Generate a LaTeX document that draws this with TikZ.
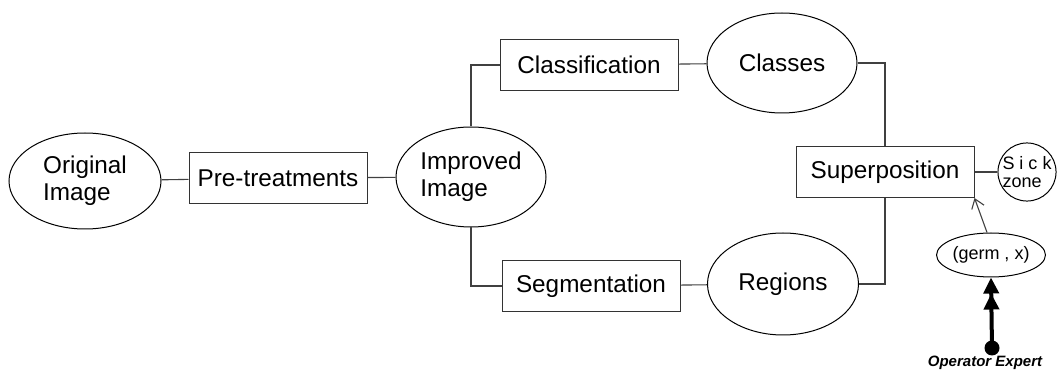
\documentclass[tikz,border=0pt]{standalone}
\usepackage{fontspec}
\setmainfont{Liberation Sans}
\usetikzlibrary{arrows.meta,shapes.geometric}
\begin{document}
\begin{tikzpicture}[x=1pt,y=-1pt,
  box/.style={draw=black!80,line width=1pt,minimum width=178pt,minimum height=51pt,inner sep=0pt,font=\fontsize{24.3}{27}\selectfont},
  oval/.style={draw,line width=1pt,ellipse,inner sep=0pt,minimum width=150pt,minimum height=100pt,font=\fontsize{24.3}{27}\selectfont,align=left},
  small/.style={font=\fontsize{18}{18}\selectfont},
  conn/.style={draw=black!75,line width=1.1pt}]
\useasboundingbox (0,0) rectangle (1058,371);

\node[oval,minimum width=152pt,minimum height=96pt] (orig) at (85,181) {Original\\Image};
\node[box] (pre) at (278,178) {Pre-treatments};
\node[oval] (imp) at (471,177) {Improved\\Image};
\node[box] (cls) at (589,65) {Classification};
\node[oval] (classes) at (782,63) {Classes};
\node[box] (seg) at (591,286) {Segmentation};
\node[oval,minimum width=151pt,minimum height=102pt] (reg) at (783,284) {Regions};
\node[box] (sup) at (885,172) {Superposition};
\node[draw,line width=1pt,circle,minimum size=58pt,inner sep=0pt,small,align=left] (sick) at (1027,172) {S i c k\\zone};
\node[draw,line width=1pt,ellipse,minimum width=105pt,minimum height=44pt,inner sep=0pt,small] (germ) at (991,255) {(germ , x)};
\node[circle,fill=black,minimum size=15pt,inner sep=0pt] (dot) at (992,348) {};
\node[font=\fontsize{15}{15}\selectfont\bfseries\itshape] (op) at (985,363) {Operator Expert};

\draw[conn] (orig) -- (pre);
\draw[conn] (pre) -- (imp);
\draw[conn] (imp.north) |- (cls.west);
\draw[conn] (imp.south) |- (seg.west);
\draw[conn] (cls) -- (classes);
\draw[conn] (seg) -- (reg);
\draw[conn] (classes.east) -| (sup.north);
\draw[conn] (reg.east) -| (sup.south);
\draw[conn] (sup) -- (sick);
\draw[conn,-{Straight Barb[length=9pt,width=13pt]}] (germ.100) -- (sup.south east);
\draw[line width=4pt,-{Triangle[length=16pt,width=15pt]Triangle[length=16pt,width=15pt]}] (dot.center) -- (germ.south);
\end{tikzpicture}
\end{document}
